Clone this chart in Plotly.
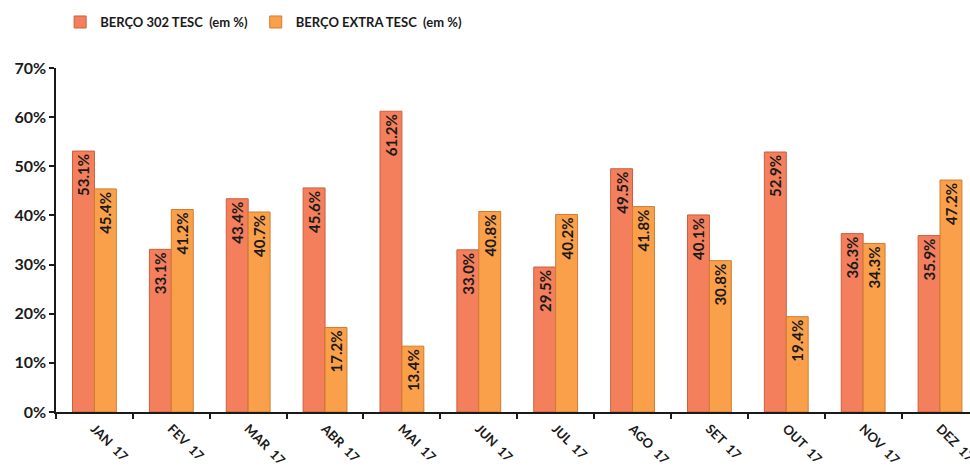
import plotly.graph_objects as go

months = ["JAN  17", "FEV  17", "MAR  17", "ABR  17", "MAI  17", "JUN  17",
          "JUL  17", "AGO  17", "SET  17", "OUT  17", "NOV  17", "DEZ  17"]
berco_302 = [53.1, 33.1, 43.4, 45.6, 61.2, 33.0, 29.5, 49.5, 40.1, 52.9, 36.3, 35.9]
berco_extra = [45.4, 41.2, 40.7, 17.2, 13.4, 40.8, 40.2, 41.8, 30.8, 19.4, 34.3, 47.2]
y_ticks = [0, 10, 20, 30, 40, 50, 60, 70]

FONT = "Lato, Carlito, Calibri, sans-serif"
labels = [m.replace(" ", "\u00a0") for m in months]

def mk(name, vals, color, edge):
    return go.Bar(
        name=name, x=labels, y=vals,
        marker=dict(color=color, line=dict(color=edge, width=1)),
        text=[f"{v:.1f}%" for v in vals],
        textposition="inside", insidetextanchor="end", textangle=-90,
        constraintext="none",
        textfont=dict(family=FONT, size=15, color="#1a1a1a", weight="bold"),
        cliponaxis=True,
    )

fig = go.Figure([
    mk("BERÇO 302 TESC\u00a0\u00a0(em %)\u00a0", berco_302, "#F47F5C", "#C9603F"),
    mk("BERÇO EXTRA TESC\u00a0\u00a0(em %)", berco_extra, "#FAA04A", "#CF7D2E"),
])

fig.update_layout(
    width=970, height=468,
    margin=dict(l=56, r=0, t=68, b=56),
    paper_bgcolor="white", plot_bgcolor="white",
    barmode="group", bargap=0.43, bargroupgap=0,
    font=dict(family=FONT, color="#1a1a1a"),
    legend=dict(orientation="h", xref="container", yref="container",
                x=0.062, y=0.985, xanchor="left", yanchor="top",
                font=dict(family=FONT, size=13, weight="bold"),
                itemwidth=30, tracegroupgap=0),
    showlegend=True,
)
fig.update_xaxes(
    range=[-0.5, 11.39], showline=True, linecolor="#1a1a1a", linewidth=2,
    ticks="outside", tickson="boundaries", ticklen=5, tickcolor="#1a1a1a", tickwidth=2,
    tickangle=45, ticklabelstandoff=2, automargin=False,
    tickfont=dict(family=FONT, size=13, weight="bold"),
    showgrid=False,
)
fig.update_yaxes(
    range=[0, 70], tickvals=y_ticks, ticktext=[f"{t}%" for t in y_ticks],
    showline=True, linecolor="#1a1a1a", linewidth=1.5, automargin=False,
    ticks="outside", ticklen=5, tickcolor="#1a1a1a", tickwidth=1.5,
    tickfont=dict(family=FONT, size=16, weight="bold"),
    showgrid=False, zeroline=False,
)

fig.write_html("out.html")
